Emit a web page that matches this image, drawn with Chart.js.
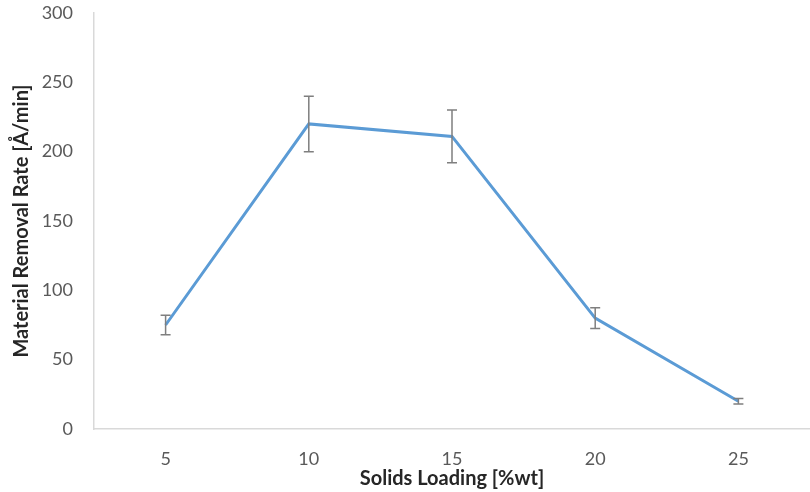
<!DOCTYPE html>
<html>
<head>
<meta charset="utf-8">
<script src="https://cdn.jsdelivr.net/npm/chart.js@4/dist/chart.umd.min.js"></script>
<style>
  html, body { margin: 0; padding: 0; background: #ffffff; }
  #wrap { width: 810px; height: 492px; }
</style>
</head>
<body>
<div id="wrap"><canvas id="c" width="810" height="492"></canvas></div>
<script>
// Solids loading (%wt) on the x axis
const categories = ['5', '10', '15', '20', '25'];
// Mean material removal rate (Å/min)
const removalRate = [75, 220, 211, 80, 20];
// Symmetric error bar half-lengths (Å/min)
const removalError = [7, 20, 19, 7.5, 2];
// Y axis tick values
const yTicks = [0, 50, 100, 150, 200, 250, 300];

const FONT = 'Lato, "Open Sans", sans-serif';

// Draws vertical error bars with caps from the dataset's data and the error array
const errorBars = {
  id: 'errorBars',
  afterDatasetsDraw(chart) {
    const { ctx, scales: { x, y } } = chart;
    const cap = 5;
    ctx.save();
    ctx.strokeStyle = '#7f7f7f';
    ctx.lineWidth = 1.5;
    removalRate.forEach((v, i) => {
      const px = x.getPixelForValue(i);
      const top = y.getPixelForValue(v + removalError[i]);
      const bot = y.getPixelForValue(v - removalError[i]);
      ctx.beginPath();
      ctx.moveTo(px, top); ctx.lineTo(px, bot);
      ctx.moveTo(px - cap, top); ctx.lineTo(px + cap, top);
      ctx.moveTo(px - cap, bot); ctx.lineTo(px + cap, bot);
      ctx.stroke();
    });
    ctx.restore();
  }
};

new Chart(document.getElementById('c'), {
  type: 'line',
  data: {
    labels: categories,
    datasets: [{
      data: removalRate,
      borderColor: '#5b9bd5',
      borderWidth: 3,
      pointRadius: 0,
      tension: 0,
      fill: false
    }]
  },
  options: {
    responsive: false,
    animation: false,
    devicePixelRatio: 1,
    layout: { padding: { top: 13, left: 0, right: 0, bottom: 0 } },
    plugins: { legend: { display: false }, tooltip: { enabled: false } },
    scales: {
      x: {
        offset: true,
        grid: { display: false, drawTicks: false, tickLength: 0 },
        border: { display: true, color: '#d9d9d9', width: 1.5 },
        ticks: { color: '#595959', font: { family: FONT, size: 18 }, padding: 19, maxRotation: 0 },
        title: {
          display: true,
          text: 'Solids Loading [%wt]',
          color: '#262626',
          font: { family: FONT, size: 20, weight: 'bold' },
          padding: { top: 0, bottom: 1 }
        },
        afterFit(scale) { scale.height = 63; scale.paddingLeft = 0; scale.paddingRight = 0; }
      },
      y: {
        min: 0,
        max: 300,
        afterBuildTicks(scale) { scale.ticks = yTicks.map(v => ({ value: v })); },
        grid: { display: false, drawTicks: false, tickLength: 0 },
        border: { display: true, color: '#d9d9d9', width: 1.5 },
        ticks: { color: '#595959', font: { family: FONT, size: 18 }, padding: 21 },
        title: {
          display: true,
          text: 'Material Removal Rate [Å/min]',
          color: '#262626',
          font: { family: FONT, size: 20, weight: 'bold' },
          padding: { top: 10, bottom: 0 }
        },
        afterFit(scale) { scale.width = 94; scale.paddingTop = 0; scale.paddingBottom = 0; }
      }
    }
  },
  plugins: [errorBars]
});
</script>
</body>
</html>
